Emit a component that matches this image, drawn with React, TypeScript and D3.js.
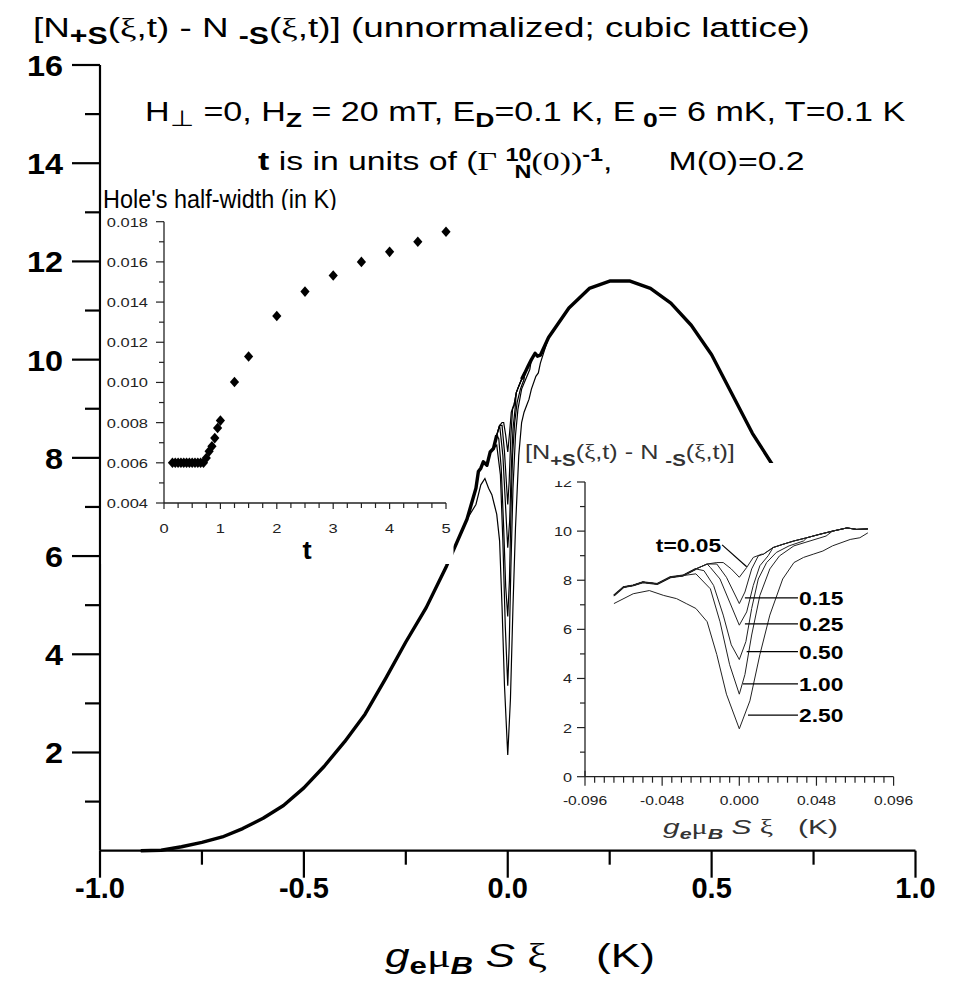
import React, { useLayoutEffect, useRef, useState } from 'react';
import * as d3 from 'd3';

const FONT = '"Liberation Sans", Arial, Helvetica, sans-serif';
const SERIF = '"Liberation Serif", "DejaVu Serif", serif';

// ---------- main plot data (hump outside the hole region) ----------
const mainLeftX = [-0.9, -0.85, -0.8, -0.75, -0.7, -0.65, -0.6, -0.55, -0.5, -0.45, -0.4, -0.35, -0.3, -0.25, -0.2, -0.15, -0.1];
const mainLeftY = [0, 0.01, 0.08, 0.17, 0.28, 0.45, 0.66, 0.92, 1.28, 1.72, 2.22, 2.78, 3.5, 4.25, 4.95, 5.8, 6.75];
const mainRightX = [0.1, 0.15, 0.2, 0.25, 0.3, 0.35, 0.4, 0.45, 0.5, 0.55, 0.6, 0.65, 0.7, 0.75];
const mainRightY = [10.45, 11.05, 11.45, 11.6, 11.6, 11.45, 11.15, 10.7, 10.1, 9.3, 8.5, 7.85, 7.0, 6.1];

// ---------- hole region (right inset), shared background ----------
const baseX = [-0.078, -0.072, -0.066, -0.060, -0.051, -0.043, -0.035, -0.027, -0.020, -0.014, 0.015, 0.021, 0.027, 0.034, 0.042, 0.050, 0.058, 0.067, 0.073, 0.080];
const baseY = [7.38, 7.72, 7.79, 7.92, 7.85, 8.12, 8.19, 8.46, 8.66, 8.72, 9.06, 9.33, 9.46, 9.6, 9.73, 9.87, 10.0, 10.13, 10.07, 10.09];

// hole profiles for each t
const tLabels = ['t=0.05', '0.15', '0.25', '0.50', '1.00', '2.50'];
const dipX = [
  [-0.010, -0.005, 0.000, 0.0046, 0.0087, 0.0139],
  [-0.014, -0.008, 0.000, 0.0035, 0.0077, 0.0118],
  [-0.018, -0.012, -0.006, 0.000, 0.0046, 0.0087, 0.0128, 0.018],
  [-0.022, -0.016, -0.010, -0.005, 0.000, 0.0041, 0.0077, 0.0118, 0.017, 0.023, 0.031, 0.040],
  [-0.027, -0.018, -0.012, -0.006, 0.000, 0.0035, 0.0077, 0.0128, 0.019, 0.025, 0.034, 0.044, 0.054],
  [-0.078, -0.066, -0.056, -0.047, -0.039, -0.033, -0.027, -0.020, -0.014, -0.008, 0.000, 0.0066, 0.0128, 0.019, 0.027, 0.034, 0.040, 0.046, 0.052, 0.058, 0.069, 0.075, 0.080],
];
const dipY = [
  [8.72, 8.46, 8.12, 8.52, 8.93, 9.06],
  [8.66, 8.12, 7.05, 7.52, 8.46, 8.99],
  [8.52, 8.05, 7.11, 6.17, 6.71, 7.79, 8.59, 9.0],
  [8.39, 7.79, 6.58, 5.37, 4.77, 5.5, 6.85, 8.05, 8.72, 9.13, 9.4, 9.6],
  [8.26, 7.65, 6.31, 4.56, 3.36, 4.16, 5.77, 7.38, 8.46, 8.99, 9.4, 9.6, 9.8],
  [7.05, 7.45, 7.58, 7.38, 7.25, 7.05, 6.85, 6.31, 4.97, 3.36, 1.95, 3.09, 4.97, 6.58, 8.05, 8.72, 8.93, 9.06, 9.19, 9.4, 9.66, 9.73, 9.93],
];
// leader lines for the t labels (inset data units)
const leadX0 = [0.0046, 0.0035, 0.0035, 0.0046, 0.0023, 0.0054];
const leadY0 = [8.55, 7.28, 6.22, 5.09, 3.78, 2.51];
const leadX1 = [-0.0107, 0.0365, 0.0365, 0.0365, 0.0365, 0.0365];
const leadY1 = [9.44, 7.28, 6.22, 5.09, 3.78, 2.51];

// ---------- left inset: hole half-width vs t ----------
const holeT = [0.15, 0.2, 0.25, 0.3, 0.35, 0.4, 0.45, 0.5, 0.55, 0.6, 0.65, 0.7, 0.75, 0.8, 0.85, 0.9, 0.95, 1.0, 1.25, 1.5, 2.0, 2.5, 3.0, 3.5, 4.0, 4.5, 5.0];
const holeW = [0.006, 0.006, 0.006, 0.006, 0.006, 0.006, 0.006, 0.006, 0.006, 0.006, 0.006, 0.006, 0.00624, 0.00657, 0.00682, 0.00723, 0.00773, 0.0081, 0.01002, 0.01129, 0.01331, 0.01452, 0.01532, 0.0160, 0.0165, 0.0170, 0.0175];

// tick labels
const mainYLabels = ['2', '4', '6', '8', '10', '12', '14', '16'];
const mainXLabels = ['-1.0', '-0.5', '0.0', '0.5', '1.0'];

type P = [number, number];
const zip = (xs: number[], ys: number[]): P[] => xs.map((x, i) => [x, ys[i]]);
function compose(dx: number[], dy: number[]): P[] {
  const lo = dx[0], hi = dx[dx.length - 1];
  const pts: P[] = [];
  baseX.forEach((x, i) => { if (x < lo) pts.push([x, baseY[i]]); });
  dx.forEach((x, i) => pts.push([x, dy[i]]));
  baseX.forEach((x, i) => { if (x > hi) pts.push([x, baseY[i]]); });
  return pts;
}

function FitText({ x, y, width, size, fill = '#000', weight, children }: any) {
  const ref = useRef<SVGTextElement>(null);
  const [sx, setSx] = useState(1);
  useLayoutEffect(() => {
    const el = ref.current;
    if (!el) return;
    const w = el.getBBox().width;
    if (w > 0) setSx(width / w);
  }, [width]);
  return (
    <g transform={`translate(${x},${y}) scale(${sx},1)`}>
      <text ref={ref} x={0} y={0} fontFamily={FONT} fontSize={size} fill={fill} fontWeight={weight} style={{ whiteSpace: 'pre' }}>{children}</text>
    </g>
  );
}

function SText({ x, y, sx, size, anchor = 'start', weight, fill = '#000', children }: any) {
  return (
    <g transform={`translate(${x},${y}) scale(${sx},1)`}>
      <text x={0} y={0} fontFamily={FONT} fontSize={size} fontWeight={weight} fill={fill} textAnchor={anchor}>{children}</text>
    </g>
  );
}

export default function App() {
  // main scales
  const xM = d3.scaleLinear().domain([-1, 1]).range([100, 915.5]);
  const yM = d3.scaleLinear().domain([0, 16]).range([850.7, 65]);
  // left inset scales
  const xL = d3.scaleLinear().domain([0, 5]).range([164, 446]);
  const yL = d3.scaleLinear().domain([0.004, 0.018]).range([503, 221.7]);
  // right inset scales
  const xR = d3.scaleLinear().domain([-0.096, 0.096]).range([585, 893.6]);
  const yR = d3.scaleLinear().domain([0, 12]).range([776.7, 482]);

  const insetCurves = dipX.map((dx, i) => compose(dx, dipY[i]));
  const mainCurves = insetCurves.map(c => [...zip(mainLeftX, mainLeftY), ...c, ...zip(mainRightX, mainRightY)]);
  const thickLeft: P[] = [...zip(mainLeftX, mainLeftY), ...zip(baseX, baseY).filter(p => p[0] <= -0.027)];
  const thickRight: P[] = [...zip(baseX, baseY).filter(p => p[0] >= 0.034), ...zip(mainRightX, mainRightY)];

  const lineM = d3.line<P>().x(d => xM(d[0])).y(d => yM(d[1]));
  const lineR = d3.line<P>().x(d => xR(d[0])).y(d => yR(d[1]));

  const yTicksM = d3.range(1, 17);
  const xTicksM = d3.range(-4, 5).map(i => i * 0.25);
  const yTicksL = d3.range(4, 19).map(v => v / 1000);
  const xTicksL = d3.range(0, 21).map(i => i * 0.25);
  const yTicksR = d3.range(0, 13);
  const xTicksR = d3.range(-16, 17);

  return (
    <svg width={960} height={990} style={{ position: 'absolute', left: 0, top: 0, background: '#fff' }} xmlns="http://www.w3.org/2000/svg">
      <rect x={0} y={0} width={960} height={990} fill="#fff" />

      {/* main curves */}
      <path d={lineM(thickLeft) || ''} fill="none" stroke="#000" strokeWidth={3.4} strokeLinejoin="round" />
      <path d={lineM(thickRight) || ''} fill="none" stroke="#000" strokeWidth={3.4} strokeLinejoin="round" />
      {mainCurves.map((c, i) => (
        <path key={i} d={lineM(c) || ''} fill="none" stroke="#000" strokeWidth={1.2} />
      ))}

      {/* main axes */}
      <line x1={xM(-1)} x2={xM(1)} y1={yM(0)} y2={yM(0)} stroke="#000" strokeWidth={2.2} />
      <line x1={xM(-1)} x2={xM(-1)} y1={yM(0)} y2={yM(16)} stroke="#000" strokeWidth={2.2} />
      {yTicksM.map(v => (
        <line key={v} x1={xM(-1) - (v % 2 === 0 ? 28 : 15)} x2={xM(-1)} y1={yM(v)} y2={yM(v)} stroke="#000" strokeWidth={2.2} />
      ))}
      {xTicksM.map((v, i) => (
        <line key={i} x1={xM(v)} x2={xM(v)} y1={yM(0)} y2={yM(0) + (i % 2 === 0 ? 27 : 14)} stroke="#000" strokeWidth={2.2} />
      ))}
      {mainYLabels.map(l => (
        <SText key={l} x={63} y={yM(+l) + 11} sx={1.08} size={30} weight="bold" anchor="end">{l}</SText>
      ))}
      {mainXLabels.map(l => (
        <SText key={l} x={xM(+l)} y={898} sx={1.0} size={29} weight="bold" anchor="middle">{l}</SText>
      ))}

      {/* main title */}
      <FitText x={33} y={37} width={777} size={28}>
        <tspan>[N</tspan>
        <tspan fontWeight="bold" fontSize={23} dy={7}>+S</tspan>
        <tspan dy={-7}>(</tspan>
        <tspan fontFamily={SERIF}>ξ</tspan>
        <tspan>,t) - N </tspan>
        <tspan fontWeight="bold" fontSize={23} dy={7}>-S</tspan>
        <tspan dy={-7}>(</tspan>
        <tspan fontFamily={SERIF}>ξ</tspan>
        <tspan>,t)] (unnormalized; cubic lattice)</tspan>
      </FitText>

      {/* parameter annotations */}
      <FitText x={145} y={121} width={760} size={27}>
        <tspan>H</tspan>
        <tspan fontSize={22} dy={5}>⊥</tspan>
        <tspan dy={-5}> =0, H</tspan>
        <tspan fontWeight="bold" fontSize={21} dy={6}>Z</tspan>
        <tspan dy={-6}> = 20 mT, E</tspan>
        <tspan fontWeight="bold" fontSize={21} dy={6}>D</tspan>
        <tspan dy={-6}>=0.1 K, E</tspan>
        <tspan fontWeight="bold" fontSize={21} dy={6}> 0</tspan>
        <tspan dy={-6}>= 6 mK, T=0.1 K</tspan>
      </FitText>
      <FitText x={258} y={170} width={547} size={26}>
        <tspan fontWeight="bold">t</tspan>
        <tspan> is in units of (</tspan>
        <tspan fontFamily={SERIF}>Γ </tspan>
        <tspan fontWeight="bold" fontSize={18} dy={-9}>10</tspan>
        <tspan fontWeight="bold" fontSize={18} dx={-13} dy={17}>N</tspan>
        <tspan fontFamily={SERIF} dy={-8}>(0))</tspan>
        <tspan fontWeight="bold" fontSize={18} dy={-9}>-1</tspan>
        <tspan dy={9}>,      M(0)=0.2</tspan>
      </FitText>

      {/* left inset */}
      <FitText x={103} y={208} width={234} size={25}>Hole's half-width (in K)</FitText>
      <rect x={101.5} y={210} width={352} height={354} fill="#fff" />
      <line x1={xL(0)} x2={xL(0)} y1={yL(0.004)} y2={yL(0.018)} stroke="#222" strokeWidth={1.3} />
      <line x1={xL(0)} x2={xL(5)} y1={yL(0.004)} y2={yL(0.004)} stroke="#222" strokeWidth={1.3} />
      {yTicksL.map((v, i) => (
        <line key={i} x1={xL(0) - (i % 2 === 0 ? 8 : 5)} x2={xL(0)} y1={yL(v)} y2={yL(v)} stroke="#222" strokeWidth={1.2} />
      ))}
      {yTicksL.filter((_, i) => i % 2 === 0).map((v, i) => (
        <SText key={i} x={148} y={yL(v) + 5} sx={1.22} size={13.5} anchor="end" fill="#222">{v.toFixed(3)}</SText>
      ))}
      {xTicksL.map((v, i) => (
        <line key={i} x1={xL(v)} x2={xL(v)} y1={yL(0.004)} y2={yL(0.004) + (i % 4 === 0 ? 6 : 5)} stroke="#222" strokeWidth={1.2} />
      ))}
      {d3.range(0, 6).map(v => (
        <SText key={v} x={xL(v)} y={533} sx={1.22} size={13.5} anchor="middle" fill="#222">{String(v)}</SText>
      ))}
      <SText x={307} y={559} sx={1.1} size={25} weight="bold" anchor="middle">t</SText>
      {holeT.map((t, i) => (
        <path key={i} transform={`translate(${xL(t)},${yL(holeW[i])})`} d="M0,-5.3L4.6,0L0,5.3L-4.6,0Z" fill="#000" />
      ))}

      {/* right inset */}
      <rect x={522} y={463} width={436} height={385} fill="#fff" />
      <line x1={xR(-0.096)} x2={xR(-0.096)} y1={yR(0)} y2={yR(12)} stroke="#222" strokeWidth={1.3} />
      <line x1={xR(-0.096)} x2={xR(0.096)} y1={yR(0)} y2={yR(0)} stroke="#222" strokeWidth={1.3} />
      {yTicksR.map(v => (
        <line key={v} x1={xR(-0.096) - (v % 2 === 0 ? 8 : 5)} x2={xR(-0.096)} y1={yR(v)} y2={yR(v)} stroke="#222" strokeWidth={1.2} />
      ))}
      {yTicksR.filter(v => v % 2 === 0).map(v => (
        <SText key={v} x={572} y={yR(v) + 5} sx={1.25} size={13} anchor="end" fill="#222">{String(v)}</SText>
      ))}
      {xTicksR.map(i => (
        <line key={i} x1={xR(i * 0.006)} x2={xR(i * 0.006)} y1={yR(0) - (i === -16 ? 6 : 0)} y2={yR(0) + (i % 8 === 0 ? 9 : 6)} stroke="#222" strokeWidth={1.2} />
      ))}
      {[-8, -4, 0, 4, 8].map(i => (
        <SText key={i} x={xR(i * 0.012)} y={805} sx={1.2} size={13} anchor="middle" fill="#222">{(i * 0.012).toFixed(3)}</SText>
      ))}
      <path d={lineR(zip(baseX, baseY).filter(p => p[0] <= -0.027)) || ''} fill="none" stroke="#111" strokeWidth={2} />
      {insetCurves.map((c, i) => (
        <path key={i} d={lineR(c) || ''} fill="none" stroke="#222" strokeWidth={1} />
      ))}
      {tLabels.map((l, i) => (
        <g key={l}>
          <line x1={xR(leadX0[i])} y1={yR(leadY0[i])} x2={xR(leadX1[i])} y2={yR(leadY1[i])} stroke="#000" strokeWidth={1.2} />
          {i === 0 ? (
            <SText x={xR(leadX1[i]) - 1} y={yR(leadY1[i]) + 7} sx={1.2} size={19} weight="bold" anchor="end">{l}</SText>
          ) : (
            <SText x={xR(leadX1[i]) + 1} y={yR(leadY1[i]) + 7} sx={1.2} size={19} weight="bold" anchor="start">{l}</SText>
          )}
        </g>
      ))}
      {/* inset title with its own white box */}
      <rect x={523} y={430} width={214} height={51} fill="#fff" />
      <FitText x={525} y={459} width={210} size={21} fill="#333">
        <tspan>[N</tspan>
        <tspan fontWeight="bold" fontSize={17} dy={7}>+S</tspan>
        <tspan dy={-7}>(</tspan>
        <tspan fontFamily={SERIF}>ξ</tspan>
        <tspan>,t) - N </tspan>
        <tspan fontWeight="bold" fontSize={17} dy={7}>-S</tspan>
        <tspan dy={-7}>(</tspan>
        <tspan fontFamily={SERIF}>ξ</tspan>
        <tspan>,t)]</tspan>
      </FitText>
      <FitText x={663} y={834} width={175} size={21} fill="#333">
        <tspan fontStyle="italic">g</tspan>
        <tspan fontWeight="bold" fontStyle="italic" fontSize={15} dy={5}>e</tspan>
        <tspan dy={-5} fontFamily={SERIF}>μ</tspan>
        <tspan fontWeight="bold" fontStyle="italic" fontSize={15} dy={5}>B</tspan>
        <tspan dy={-5} fontStyle="italic"> S </tspan>
        <tspan fontFamily={SERIF}>ξ</tspan>
        <tspan>   (K)</tspan>
      </FitText>

      {/* main x-axis title */}
      <FitText x={385} y={967} width={270} size={34}>
        <tspan fontStyle="italic">g</tspan>
        <tspan fontWeight="bold" fontSize={24} dy={7}>e</tspan>
        <tspan dy={-7} fontFamily={SERIF}>μ</tspan>
        <tspan fontWeight="bold" fontStyle="italic" fontSize={24} dy={7}>B</tspan>
        <tspan dy={-7} fontStyle="italic"> S </tspan>
        <tspan fontFamily={SERIF}>ξ</tspan>
        <tspan>    (K)</tspan>
      </FitText>
    </svg>
  );
}
